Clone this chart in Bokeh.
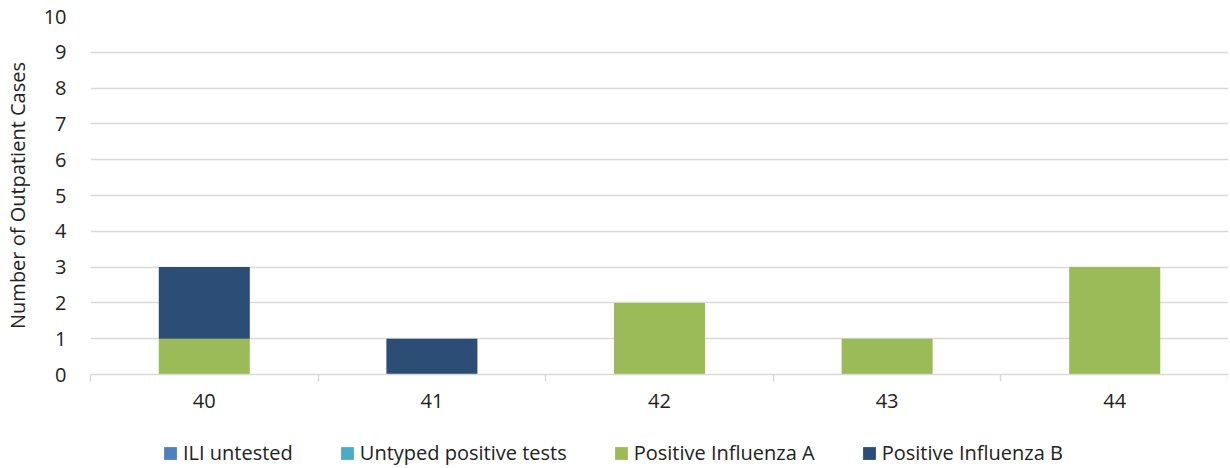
from bokeh.plotting import figure
from bokeh.models import FixedTicker, Legend, LegendItem, ColumnDataSource, Range1d
from bokeh.layouts import column
from bokeh.embed import file_html
from bokeh.resources import INLINE

weeks = ["40", "41", "42", "43", "44"]
ili_untested = [0, 0, 0, 0, 0]
untyped_pos = [0, 0, 0, 0, 0]
flu_a = [1, 0, 2, 1, 3]
flu_b = [2, 1, 0, 0, 0]
series_names = ["ILI untested", "Untyped positive tests", "Positive Influenza A", "Positive Influenza B"]
colors = ["#4F81BD", "#4BACC6", "#9BBB59", "#2C4D75"]
y_ticks = list(range(0, 11))

FONT = "Open Sans"
TXT = "#222222"
GRID = "#D9D9D9"

xpos = [i + 0.5 for i in range(len(weeks))]
src = ColumnDataSource(dict(x=xpos, ili=ili_untested, unt=untyped_pos, a=flu_a, b=flu_b))
stack_cols = ["ili", "unt", "a", "b"]

p = figure(width=1228, height=420, output_backend="svg", toolbar_location=None,
           x_range=Range1d(0, len(weeks)), y_range=Range1d(0, 10),
           min_border_left=90, min_border_right=0, min_border_top=16, min_border_bottom=46)

p.vbar_stack(stack_cols, x="x", width=0.4, source=src, color=colors, line_color=None)

p.outline_line_color = None
p.background_fill_color = "white"
p.border_fill_color = "white"

# y axis
p.yaxis.ticker = FixedTicker(ticks=y_ticks)
p.yaxis.axis_line_color = None
p.yaxis.major_tick_line_color = None
p.yaxis.minor_tick_line_color = None
p.yaxis.major_label_text_font = FONT
p.yaxis.major_label_text_font_size = "20px"
p.yaxis.major_label_text_color = TXT
p.yaxis.major_label_standoff = 18
p.yaxis.axis_label = "Number of Outpatient Cases"
p.yaxis.axis_label_text_font = FONT
p.yaxis.axis_label_text_font_size = "20px"
p.yaxis.axis_label_text_font_style = "normal"
p.yaxis.axis_label_text_color = TXT
p.yaxis.axis_label_standoff = 10

p.ygrid.grid_line_color = GRID
p.ygrid.grid_line_width = 1.5
p.xgrid.grid_line_color = None

# x axis: labels at centers, ticks at category boundaries
p.xaxis.ticker = FixedTicker(ticks=xpos, minor_ticks=list(range(len(weeks) + 1)))
p.xaxis.major_label_overrides = {x: w for x, w in zip(xpos, weeks)}
p.xaxis.major_tick_line_color = None
p.xaxis.major_tick_out = 0
p.xaxis.major_tick_in = 0
p.xaxis.minor_tick_in = 0
p.xaxis.minor_tick_out = 7
p.xaxis.minor_tick_line_color = GRID
p.xaxis.minor_tick_line_width = 1.5
p.xaxis.axis_line_color = GRID
p.xaxis.axis_line_width = 1.5
p.xaxis.major_label_text_font = FONT
p.xaxis.major_label_text_font_size = "20px"
p.xaxis.major_label_text_color = TXT
p.xaxis.major_label_standoff = 12

# legend strip: a second figure whose glyphs lie outside its ranges
lg = figure(width=1228, height=48, output_backend="svg", toolbar_location=None,
            x_range=Range1d(100, 101), y_range=Range1d(100, 101),
            x_axis_location=None, y_axis_location=None, min_border=0)
lg.outline_line_color = None
lg.grid.visible = False
lg_renderers = lg.vbar_stack(stack_cols, x="x", width=0.4, source=src, color=colors, line_color=None)

legend = Legend(items=[LegendItem(label=n, renderers=[r]) for n, r in zip(series_names, lg_renderers)],
                orientation="horizontal", location=(72, 2))
legend.label_text_font = FONT
legend.label_text_font_size = "20px"
legend.label_text_color = TXT
legend.glyph_width = 16
legend.glyph_height = 16
legend.spacing = 46
legend.label_standoff = 5
legend.border_line_color = None
legend.background_fill_alpha = 0
legend.padding = 0
legend.margin = 0
lg.add_layout(legend, "center")

layout = column(p, lg, spacing=0)
open("out.html", "w").write(file_html(layout, INLINE))
